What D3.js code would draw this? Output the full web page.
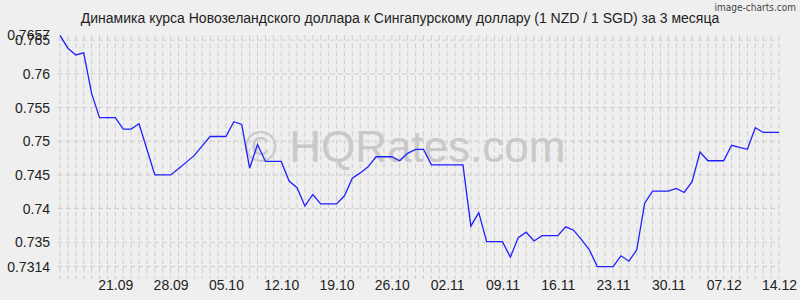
<!DOCTYPE html>
<html>
<head>
<meta charset="utf-8">
<script src="https://cdn.jsdelivr.net/npm/d3@7"></script>
<style>
  body { margin: 0; background: #efefef; }
  svg { display: block; font-family: "Liberation Sans", Arial, sans-serif; }
</style>
</head>
<body>
<div id="chart"></div>
<script>
// NZD/SGD daily rate, 14.09.2025 .. 14.12.2025
const startDate = new Date(2025, 8, 14);
const endDate = new Date(2025, 11, 14);
const rates = [
  0.7657, 0.7638, 0.7628, 0.7631, 0.7571, 0.7535, 0.7535, 0.7535, 0.7518, 0.7518,
  0.7526, 0.7488, 0.7450, 0.7450, 0.7450, 0.7459, 0.7469, 0.7479, 0.7493, 0.7507,
  0.7507, 0.7507, 0.7529, 0.7525, 0.7460, 0.7495, 0.7470, 0.7470, 0.7470, 0.7441,
  0.7431, 0.7404, 0.7421, 0.7407, 0.7407, 0.7407, 0.7419, 0.7445, 0.7453, 0.7462,
  0.7477, 0.7477, 0.7477, 0.7471, 0.7482, 0.7488, 0.7488, 0.7465, 0.7465, 0.7465,
  0.7465, 0.7465, 0.7374, 0.7394, 0.7351, 0.7351, 0.7351, 0.7328, 0.7357, 0.7365,
  0.7352, 0.7360, 0.7360, 0.7360, 0.7373, 0.7368, 0.7354, 0.7339, 0.7314, 0.7314,
  0.7314, 0.7330, 0.7322, 0.7339, 0.7408, 0.7426, 0.7426, 0.7426, 0.7430, 0.7424,
  0.7440, 0.7484, 0.7471, 0.7471, 0.7471, 0.7494, 0.7491, 0.7488, 0.7520, 0.7513,
  0.7513, 0.7513
];
const yTicks = [0.7314, 0.735, 0.74, 0.745, 0.75, 0.755, 0.76, 0.765, 0.7657];
const yGrid = [0.7314, 0.735, 0.74, 0.745, 0.75, 0.755, 0.76, 0.765];
const xTickLabels = ['21.09','28.09','05.10','12.10','19.10','26.10','02.11','09.11','16.11','23.11','30.11','07.12','14.12'];

const title = 'Динамика курса Новозеландского доллара к Сингапурскому доллару (1 NZD / 1 SGD) за 3 месяца';

const W = 800, H = 300;
const days = d3.timeDay.range(startDate, d3.timeDay.offset(endDate, 1));
const data = days.map((d, i) => ({ date: d, v: rates[i] }));
const parseTick = d3.timeParse('%d.%m.%Y');
const xTicks = xTickLabels.map(s => parseTick(s + '.2025'));

const x = d3.scaleTime().domain([startDate, endDate]).range([60, 779]);
const y = d3.scaleLinear().domain([0.7314, 0.7657]).range([266.6, 35.4]);

const svg = d3.select('#chart').append('svg').attr('width', W).attr('height', H);
svg.append('rect').attr('width', W).attr('height', H).attr('fill', '#efefef');

// grid: one dashed line per day, dashed lines at labelled values
svg.append('g').selectAll('line').data(days).join('line')
  .attr('x1', d => x(d)).attr('x2', d => x(d))
  .attr('y1', 35.4).attr('y2', 279)
  .attr('stroke', '#cdcdcd').attr('stroke-dasharray', '5,3');
svg.append('g').selectAll('line').data(yGrid).join('line')
  .attr('x1', 58).attr('x2', 779)
  .attr('y1', d => y(d)).attr('y2', d => y(d))
  .attr('stroke', '#cdcdcd').attr('stroke-dasharray', '5,3');

// watermark
svg.append('text').attr('x', 405).attr('y', 162).attr('text-anchor', 'middle')
  .attr('font-size', 44).attr('fill', '#c9c9c9').text('© HQRates.com');

// axes
const yAxis = svg.append('g').attr('transform', 'translate(60,0)')
  .call(d3.axisLeft(y).tickValues(yTicks).tickFormat(d => String(d)).tickSize(0).tickPadding(10));
const xAxis = svg.append('g').attr('transform', `translate(0,${y(0.7314)})`)
  .call(d3.axisBottom(x).tickValues(xTicks).tickFormat(d3.timeFormat('%d.%m')).tickSize(0).tickPadding(13));
[yAxis, xAxis].forEach(g => {
  g.select('.domain').remove();
  g.selectAll('text').attr('font-size', 14).attr('fill', '#222').attr('font-family', '"Liberation Sans", Arial, sans-serif');
});

// rate line
svg.append('path').datum(data)
  .attr('fill', 'none').attr('stroke', '#2020ff').attr('stroke-width', 1.3)
  .attr('d', d3.line().x(d => x(d.date)).y(d => y(d.v)));

// title and credit
svg.append('text').attr('x', 400).attr('y', 23).attr('text-anchor', 'middle')
  .attr('font-size', 14).attr('fill', '#222').text(title);
svg.append('text').attr('x', 796).attr('y', 11).attr('text-anchor', 'end')
  .attr('font-size', 10).attr('fill', '#444').attr('font-family', '"DejaVu Sans Condensed", "DejaVu Sans", sans-serif')
  .text('image-charts.com');
</script>
</body>
</html>
